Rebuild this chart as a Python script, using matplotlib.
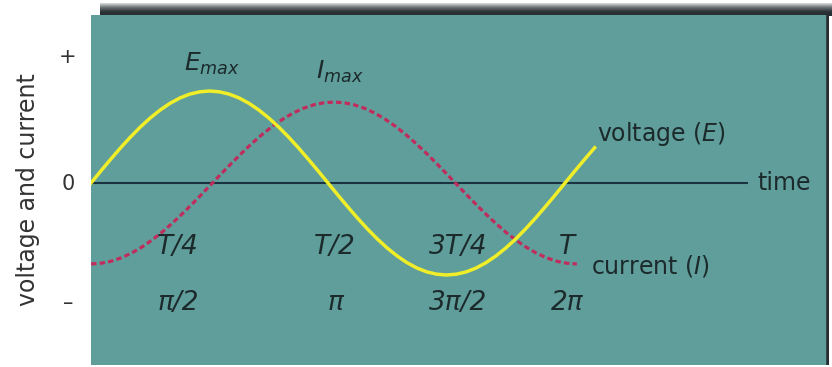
import numpy as np
import matplotlib
matplotlib.use("Agg")
import matplotlib.pyplot as plt

plt.rcParams['mathtext.fontset'] = 'dejavusans'

voltage = [0, .131, .259, .383, .500, .609, .707, .793, .866, .924, .966, .991, 1.0,
           .991, .966, .924, .866, .793, .707, .609, .500, .383, .259, .131, 0,
           -.131, -.259, -.383, -.500, -.609, -.707, -.793, -.866, -.924, -.966, -.991, -1.0,
           -.991, -.966, -.924, -.866, -.793, -.707, -.609, -.500, -.383, -.259, -.131, 0,
           .131, .259, .383]
t_voltage = np.arange(len(voltage)) / 48.0

# current lags a quarter period, smaller peak
current = [-.880, -.872, -.850, -.813, -.762, -.698, -.622, -.536, -.440, -.337, -.228, -.115, 0,
           .115, .228, .337, .440, .536, .622, .698, .762, .813, .850, .872, .880,
           .872, .850, .813, .762, .698, .622, .536, .440, .337, .228, .115, 0,
           -.115, -.228, -.337, -.440, -.536, -.622, -.698, -.762, -.813, -.850, -.872, -.880]
t_current = np.linspace(0, 1.025, len(current))

# where the period labels sit under the axis
period_pos = [0.184, 0.515, 0.774, 1.004]
period_labels = ["T/4", "T/2", "3T/4", "T"]
phase_labels = ["\u03c0/2", "\u03c0", "3\u03c0/2", "2\u03c0"]

bg = "#5f9e9b"
ink = "#1c2a2c"

fig = plt.figure(figsize=(8.32, 3.67), dpi=100)

# dark shadow band along the top
band = fig.add_axes([100 / 832, 1 - 16 / 367, 1 - 100 / 832, 13 / 367])
grad = np.linspace(0, 1, 50).reshape(-1, 1)
band.imshow(grad, aspect='auto', cmap=matplotlib.colors.LinearSegmentedColormap.from_list(
    'sh', ["#dcdcdc", "#6a7275", "#2b3337", "#262e32"]), extent=[0, 1, 0, 1])
band.axis('off')

ax = fig.add_axes([91 / 832, 2 / 367, (829 - 91) / 832, (365 - 15) / 367])
ax.set_facecolor(bg)
ax.set_xlim(0, 738 / 474)
ax.set_ylim(-182 / 92, 168 / 92)
for s in ax.spines.values():
    s.set_visible(False)
ax.set_xticks([])
ax.set_yticks([])

# right dark edge
ax.axvline(738 / 474, color="#262e32", lw=4)

ax.plot([0, 1.384], [0, 0], color="#1a3340", lw=1.5)
ax.plot(t_current, current, color="#c02c5c", lw=2.3, linestyle=(0, (1.7, 1.0)))
ax.plot(t_voltage, voltage, color="#f0ee28", lw=2.5, solid_joinstyle='round')

ax.text(0.255, 1.29, r"$E_{max}$", fontsize=18, color=ink, ha='center', va='center')
ax.text(0.525, 1.21, r"$I_{max}$", fontsize=18, color=ink, ha='center', va='center')
ax.text(1.067, 0.53, r"voltage $(E)$", fontsize=17, color=ink, ha='left', va='center')
ax.text(1.055, -0.90, r"current $(I)$", fontsize=17, color=ink, ha='left', va='center')
ax.text(1.405, 0, "time", fontsize=17, color=ink, ha='left', va='center')

for p, lab, ph in zip(period_pos, period_labels, phase_labels):
    ax.text(p, -0.70, lab, fontsize=19, style='italic', color=ink, ha='center', va='center')
    ax.text(p, -1.30, ph, fontsize=19, style='italic', color=ink, ha='center', va='center')

# y-side markers and label on the white margin
fig.text(68 / 832, 1 - 57 / 367, "+", fontsize=15, color="#333333", ha='center', va='center')
fig.text(68 / 832, 1 - 184 / 367, "0", fontsize=15, color="#333333", ha='center', va='center')
fig.text(68 / 832, 1 - 303 / 367, "\u2013", fontsize=15, color="#333333", ha='center', va='center')
fig.text(28 / 832, 1 - 190 / 367, "voltage and current", fontsize=17, color="#333333",
         rotation=90, ha='center', va='center')

fig.savefig("out.png", dpi=100, facecolor='white')
